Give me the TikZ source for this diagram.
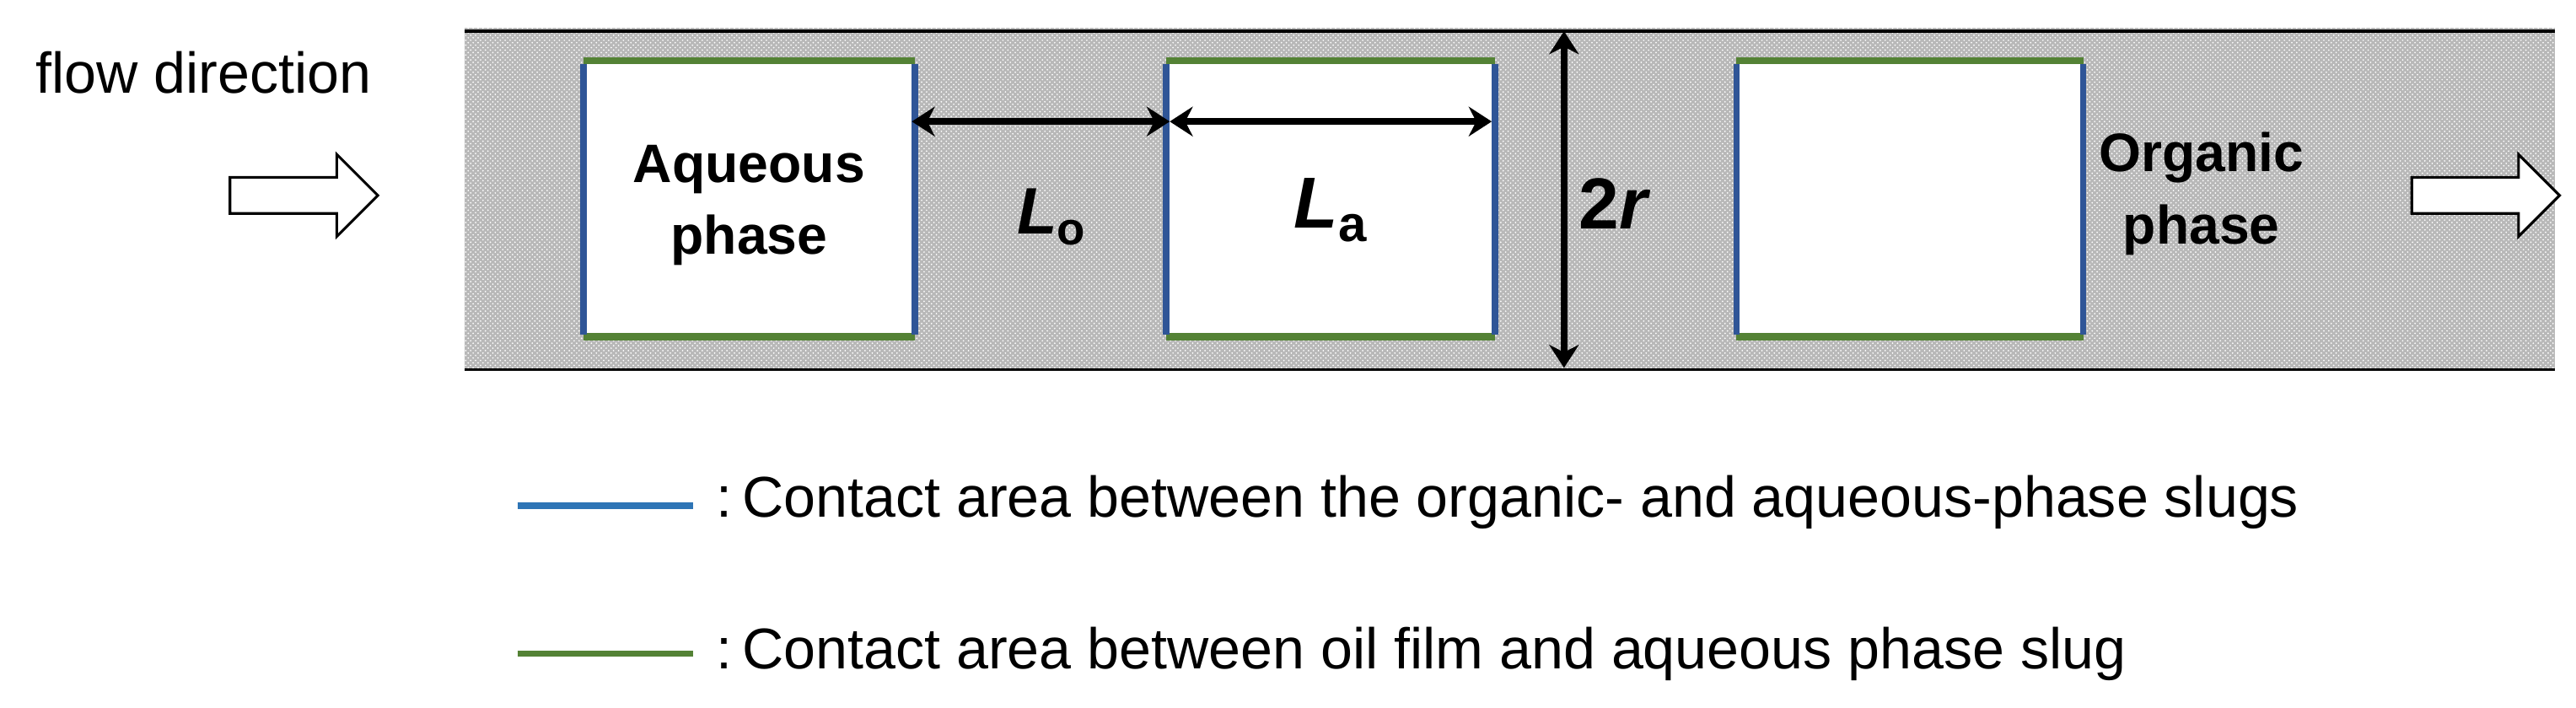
\documentclass[tikz,border=0pt]{standalone}
\usepackage{fontspec}
\setmainfont{Liberation Sans}
\usetikzlibrary{arrows.meta,patterns}
\definecolor{bl}{HTML}{2F5597}
\definecolor{gr}{HTML}{548235}
\definecolor{lbl}{HTML}{2E75B6}
\tikzset{
  side/.style={bl,line width=4pt},
  film/.style={gr,line width=4.5pt},
  dim/.style={black,line width=4pt,{Stealth[length=14pt,width=18pt]}-{Stealth[length=14pt,width=18pt]}},
  blk/.style={draw=black,line width=1.6pt,fill=white},
  txt/.style={font=\fontsize{33}{38}\selectfont\bfseries,align=center,inner sep=0},
  leg/.style={font=\fontsize{35}{38}\selectfont,anchor=west,inner sep=0}
}
\begin{document}
\begin{tikzpicture}[x=1pt,y=-1pt]
\useasboundingbox (0,0) rectangle (1568,431);
% tube
\fill[black!28] (283,17) rectangle (1555,225);
\fill[pattern=crosshatch dots,pattern color=white] (283,17) rectangle (1555,225);
\draw[line width=1.6pt] (283,19) -- (1555,19);
\draw[line width=1.6pt] (283,225) -- (1555,225);
% slugs
\foreach \n/\a/\b in {s1/355/557,s2/710/910,s3/1057/1268}{
  \fill[white] (\a,37) rectangle (\b,205);
  \draw[film] (\a,37) -- (\b,37);
  \draw[film] (\a,205) -- (\b,205);
  \draw[side] (\a,39) -- (\a,204);
  \draw[side] (\b,39) -- (\b,204);
  \coordinate (\n l) at (\a+2,74);
  \coordinate (\n r) at (\b-2,74);
}
\coordinate (tt) at (952,19);
\coordinate (tb) at (952,224);
\draw[dim] (s1r) -- (s2l);
\draw[dim] (s2l) -- (s2r);
\draw[dim] (tt) -- (tb);
\node[txt] (aq) at (456,125) {Aqueous\\[6pt]phase};
\node[txt] (lo) at (640,132) {\fontsize{40}{42}\selectfont\textit{L}\textsubscript{o}};
\node[txt] (la) at (810,128) {\fontsize{44}{46}\selectfont\textit{L}\textsubscript{a}};
\node[txt] (r2) at (983,124) {\fontsize{44}{46}\selectfont 2\textit{r}};
\node[txt] (or) at (1340,118) {Organic\\[6pt]phase};
\node[font=\fontsize{35}{38}\selectfont,inner sep=0] (fd) at (124,44) {flow direction};
% block arrows
\foreach \x in {140,1468}{
  \draw[blk] (\x,108) -- (\x+65,108) -- (\x+65,94) -- (\x+90,119) -- (\x+65,144) -- (\x+65,130) -- (\x,130) -- cycle;
}
% legend
\coordinate (b1) at (315,308); \coordinate (b2) at (422,308);
\coordinate (g1) at (315,398); \coordinate (g2) at (422,398);
\draw[lbl,line width=4pt] (b1) -- (b2);
\draw[gr,line width=4pt] (g1) -- (g2);
\node[leg] (l1) at (436,306) {:\,Contact area between the organic- and aqueous-phase slugs};
\node[leg] (l2) at (436,398) {:\,Contact area between oil film and aqueous phase slug};
\end{tikzpicture}
\end{document}
